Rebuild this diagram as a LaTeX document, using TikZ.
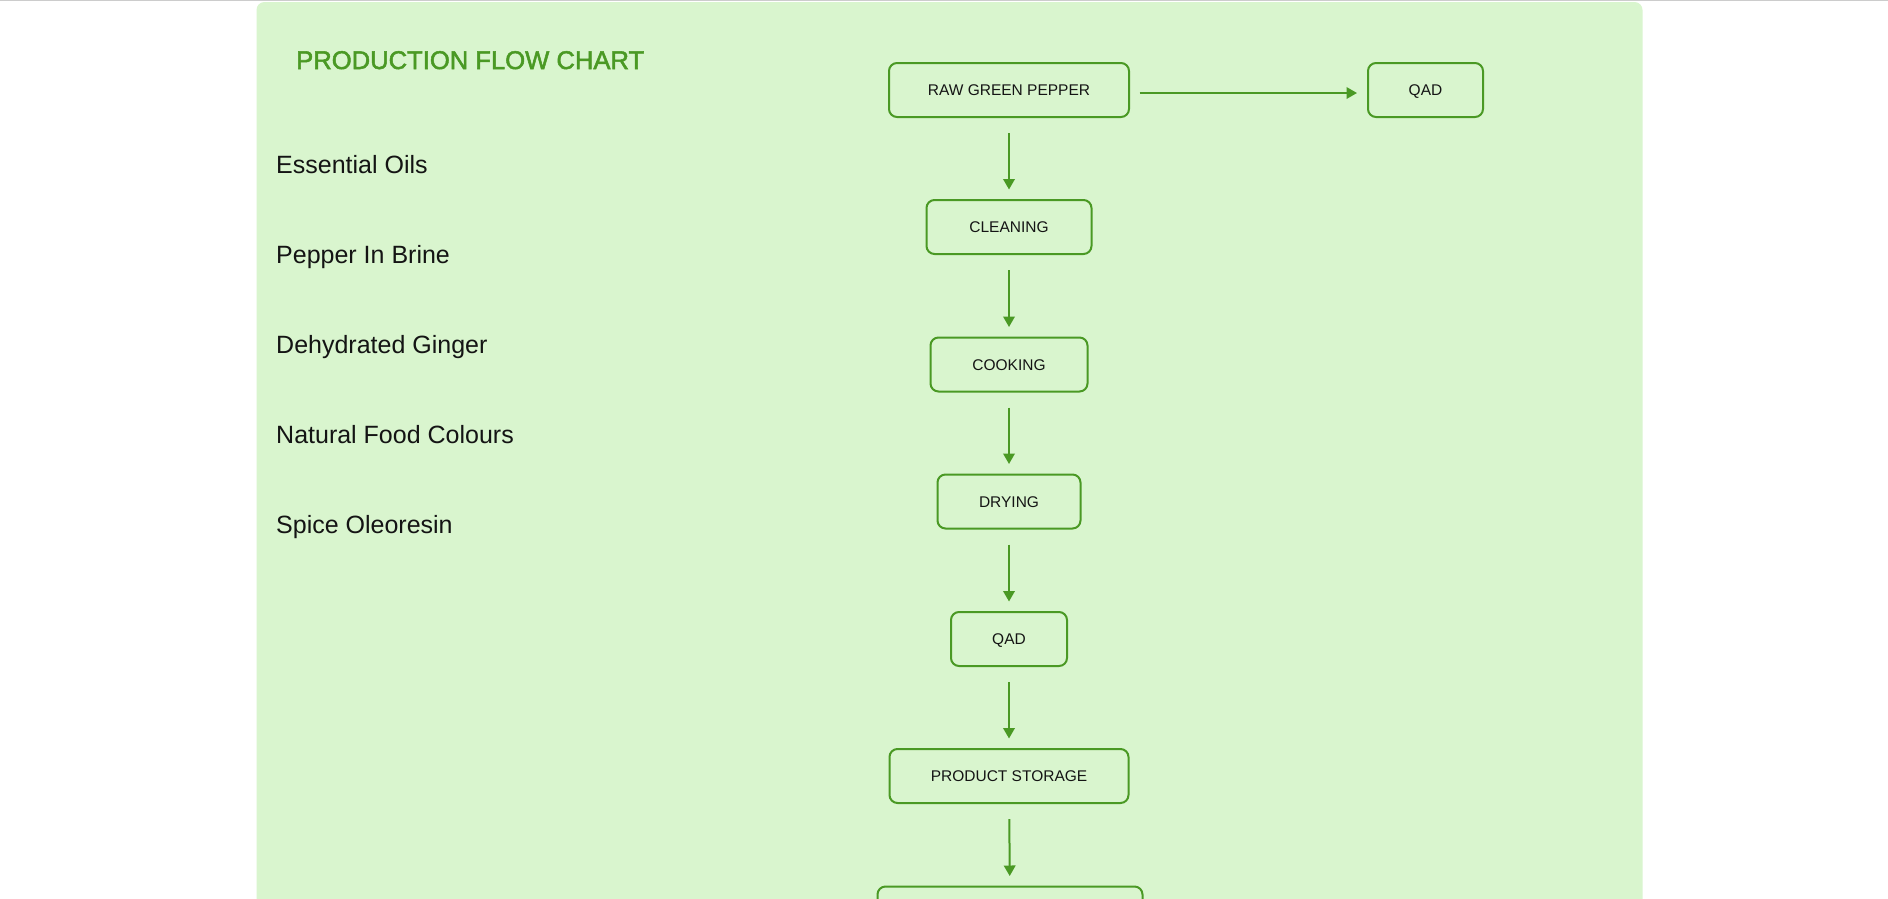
\documentclass[tikz,border=0pt]{standalone}
\usepackage{fontspec}
\setmainfont{Liberation Sans}
\newfontfamily\titlefont[FakeBold=2]{Liberation Sans}
\usetikzlibrary{arrows.meta}
\definecolor{panelfill}{RGB}{217,245,206}
\definecolor{flowgreen}{RGB}{74,153,36}
\definecolor{topline}{RGB}{204,204,204}
\definecolor{textdark}{RGB}{20,20,20}
\tikzset{
  flowbox/.style={draw=flowgreen, line width=2pt, rounded corners=8pt, minimum height=54pt,
    inner sep=0pt, text height=11.1pt, text depth=0pt, text=textdark, font=\fontsize{15.5}{18}\selectfont},
  flowarrow/.style={draw=flowgreen, line width=2pt, -{Triangle[length=10.5pt,width=11.5pt]}},
  listitem/.style={anchor=base west, inner sep=0pt, text=textdark, font=\fontsize{25}{30}\selectfont},
  titletext/.style={anchor=base west, inner sep=0pt, text=flowgreen, font=\titlefont\fontsize{25.6}{30}\selectfont}
}
\begin{document}
\begin{tikzpicture}[x=1pt, y=-1pt]
\useasboundingbox (0,0) rectangle (1888,898);
\clip (0,0) rectangle (1888,898);
\fill[white] (0,0) rectangle (1888,898);
\draw[topline, line width=1pt] (0,0.5) -- (1888,0.5);
\fill[panelfill, rounded corners=8pt] (256.5,2) rectangle (1642.5,930);

\node[titletext] (title) at (296,69) {PRODUCTION FLOW CHART};

\node[listitem] (l1) at (276,173) {Essential Oils};
\node[listitem] (l2) at (276,263) {Pepper In Brine};
\node[listitem] (l3) at (276,353) {Dehydrated Ginger};
\node[listitem] (l4) at (276,443) {Natural Food Colours};
\node[listitem] (l5) at (276,533) {Spice Oleoresin};

\node[flowbox, minimum width=240pt] (raw) at (1009,90) {RAW GREEN PEPPER};
\node[flowbox, minimum width=115pt] (qadr) at (1425.5,90) {QAD};
\node[flowbox, minimum width=165pt] (clean) at (1009,227) {CLEANING};
\node[flowbox, minimum width=157pt] (cook) at (1009,364.5) {COOKING};
\node[flowbox, minimum width=143pt] (dry) at (1009,501.5) {DRYING};
\node[flowbox, minimum width=116pt] (qad) at (1009,639) {QAD};
\node[flowbox, minimum width=239pt] (store) at (1009,776) {PRODUCT STORAGE};
\node[flowbox, minimum width=265pt] (next) at (1010,913.5) {};

\draw[flowarrow, shorten <=9.5pt, shorten >=10pt] ([yshift=-3pt]raw.east) -- ([yshift=-3pt]qadr.west);
\draw[flowarrow, shorten <=15pt, shorten >=9.5pt] (raw) -- (clean);
\draw[flowarrow, shorten <=15pt, shorten >=9.5pt] (clean) -- (cook);
\draw[flowarrow, shorten <=15pt, shorten >=9.5pt] (cook) -- (dry);
\draw[flowarrow, shorten <=15pt, shorten >=9.5pt] (dry) -- (qad);
\draw[flowarrow, shorten <=15pt, shorten >=9.5pt] (qad) -- (store);
\draw[flowarrow, shorten <=15pt, shorten >=9.5pt] (store) -- (next);
\end{tikzpicture}
\end{document}
